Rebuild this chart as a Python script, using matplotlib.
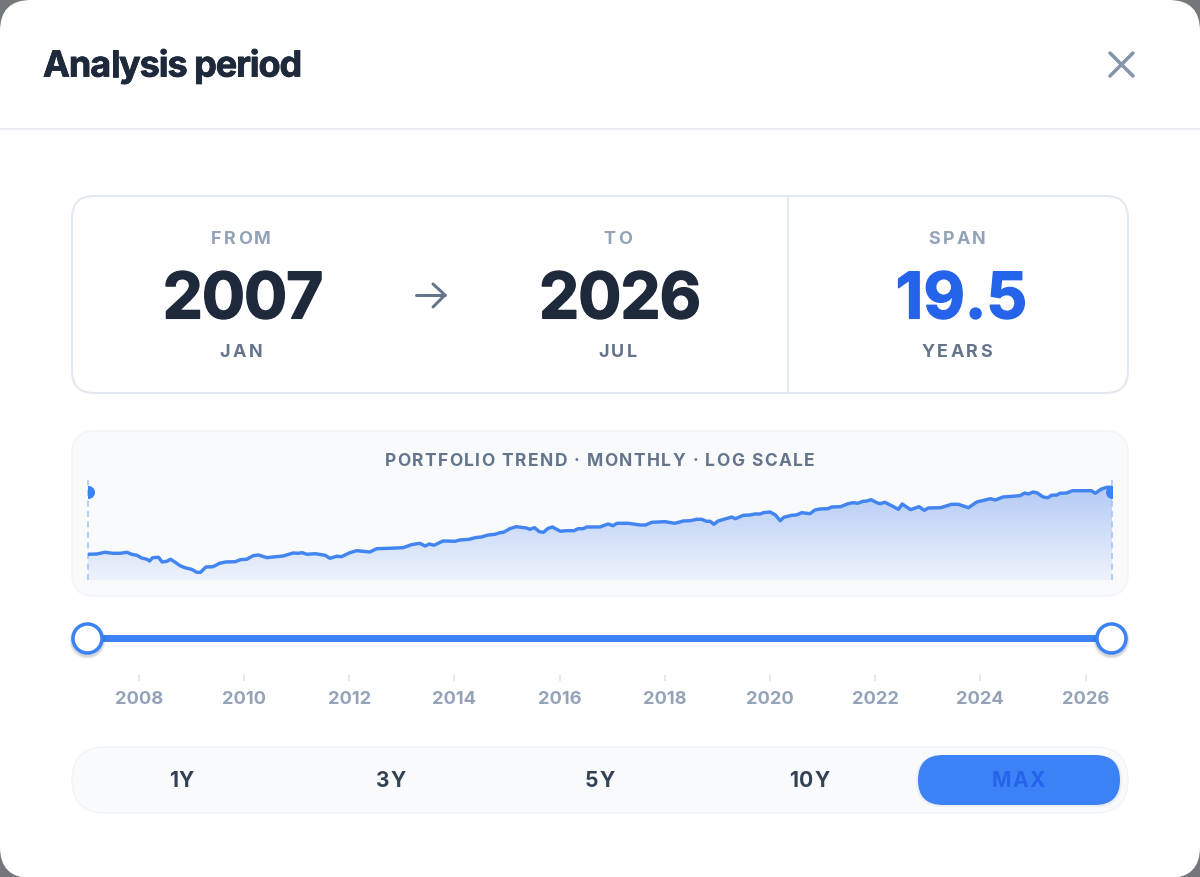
import numpy as np
import matplotlib
matplotlib.use("Agg")
import matplotlib.pyplot as plt
import matplotlib.patheffects as pe
from matplotlib.colors import to_rgb
from matplotlib.patches import FancyBboxPatch
from matplotlib.patheffects import PathEffectRenderer
from matplotlib.text import Text

plt.rcParams["font.family"] = ["Inter", "Noto Sans", "DejaVu Sans"]

# portfolio trend (decimal year, index value on log axis)
trend_years = [
    2007.02, 2007.19, 2007.34, 2007.50, 2007.63, 2007.76, 2007.85, 2007.95, 2008.04, 2008.14,
    2008.19, 2008.25, 2008.36, 2008.43, 2008.52, 2008.59, 2008.69, 2008.77, 2008.86, 2008.99,
    2009.09, 2009.16, 2009.26, 2009.40, 2009.52, 2009.64, 2009.82, 2009.92, 2010.04, 2010.16,
    2010.26, 2010.42, 2010.54, 2010.73, 2010.92, 2011.02, 2011.09, 2011.18, 2011.34, 2011.53,
    2011.62, 2011.75, 2011.84, 2012.00, 2012.13, 2012.38, 2012.51, 2012.76, 2013.01, 2013.17,
    2013.33, 2013.43, 2013.51, 2013.60, 2013.77, 2014.00, 2014.09, 2014.27, 2014.38, 2014.50,
    2014.63, 2014.76, 2014.85, 2014.92, 2015.04, 2015.16, 2015.36, 2015.42, 2015.51, 2015.60,
    2015.68, 2015.77, 2015.85, 2016.00, 2016.12, 2016.26, 2016.34, 2016.44, 2016.50, 2016.75,
    2016.91, 2017.00, 2017.08, 2017.29, 2017.52, 2017.62, 2017.74, 2017.99, 2018.18, 2018.34,
    2018.47, 2018.59, 2018.69, 2018.78, 2018.85, 2018.92, 2019.00, 2019.26, 2019.33, 2019.48,
    2019.61, 2019.70, 2019.80, 2019.86, 2019.99, 2020.09, 2020.18, 2020.25, 2020.40, 2020.49,
    2020.59, 2020.75, 2020.84, 2020.94, 2021.09, 2021.16, 2021.33, 2021.47, 2021.57, 2021.65,
    2021.76, 2021.83, 2021.91, 2022.02, 2022.08, 2022.17, 2022.30, 2022.43, 2022.50, 2022.66,
    2022.82, 2022.92, 2023.00, 2023.23, 2023.44, 2023.57, 2023.76, 2023.92, 2024.18, 2024.27,
    2024.42, 2024.74, 2024.83, 2024.90, 2024.99, 2025.07, 2025.18, 2025.27, 2025.34, 2025.44,
    2025.50, 2025.63, 2025.74, 2026.10, 2026.17, 2026.29, 2026.39, 2026.49,
]
trend_values = [
    99.3, 100.0, 104.3, 101.7, 101.7, 104.3, 99.3, 96.8, 90.6, 87.8,
    84.1, 91.3, 92.2, 82.1, 83.5, 87.8, 80.6, 74.9, 71.3, 68.5,
    63.6, 63.6, 72.5, 73.1, 79.5, 82.1, 82.7, 86.9, 87.8, 95.9,
    97.6, 91.3, 92.9, 95.2, 102.5, 101.7, 103.3, 99.3, 100.7, 96.8,
    89.9, 94.5, 93.6, 103.3, 108.5, 105.1, 114.0, 115.1, 116.8, 125.8,
    130.2, 121.8, 128.0, 124.0, 137.9, 136.9, 141.3, 143.8, 149.6, 152.2,
    159.9, 162.7, 169.2, 170.9, 186.8, 196.2, 190.0, 184.0, 191.4, 173.5,
    170.9, 188.6, 194.8, 175.3, 177.8, 177.8, 186.8, 186.8, 194.8, 194.8,
    209.8, 201.1, 213.4, 213.4, 204.6, 204.6, 218.7, 222.0, 213.4, 225.9,
    227.6, 235.5, 235.5, 224.2, 224.2, 208.2, 225.9, 249.3, 239.1, 260.0,
    262.0, 268.5, 268.5, 277.3, 282.1, 262.0, 227.6, 247.5, 260.0, 262.0,
    277.3, 270.5, 296.4, 303.8, 306.0, 319.2, 321.5, 346.2, 354.9, 349.7,
    367.4, 370.1, 382.2, 354.9, 346.2, 358.4, 329.6, 301.5, 343.7, 298.6,
    321.5, 294.2, 311.4, 313.7, 341.1, 341.1, 313.7, 361.1, 391.8, 379.4,
    408.6, 421.9, 451.0, 440.0, 462.3, 451.0, 408.6, 401.5, 426.0, 429.3,
    447.6, 451.0, 477.3, 477.3, 447.6, 497.8, 519.0, 519.0,
]
range_years = [2007.02, 2026.49]
handle_value = 462.0
tick_years = [2008, 2010, 2012, 2014, 2016, 2018, 2020, 2022, 2024, 2026]
presets = ["1Y", "3Y", "5Y", "10Y", "MAX"]

DARK = "#1e293b"
SLATE = "#64748b"
MUTED = "#94a3b8"
BLUE = "#3b82f6"
BLUE_DEEP = "#2563eb"
BORDER = "#e2e8f0"
SOFT = "#f8fafc"
PX = 0.72  # px to points at dpi 100
OFF = 1  # agg lands one pixel high otherwise


class SpacedText(Text):
    """Text with css-like letter spacing, matplotlib has no such option."""

    def __init__(self, *args, spacing=0, **kwargs):
        super().__init__(*args, **kwargs)
        self.spacing = spacing

    def draw(self, renderer):
        if not self.get_visible():
            return
        s = self.get_text()
        fp = self.get_fontproperties()
        width = lambda t: renderer.get_text_width_height_descent(t, fp, False)[0] if t else 0
        total = width(s) + self.spacing * (len(s) - 1)
        x0, y0 = self.get_transform().transform(self.get_position())
        if self.get_ha() == "center":
            x0 -= total / 2
        y0 = renderer.get_canvas_width_height()[1] - y0
        gc = renderer.new_gc()
        gc.set_foreground(self.get_color())
        gc.set_antialiased(True)
        rend = renderer
        if self.get_path_effects():
            rend = PathEffectRenderer(self.get_path_effects(), renderer)
        for i, ch in enumerate(s):
            rend.draw_text(gc, x0 + width(s[:i]) + i * self.spacing, y0, ch, fp, 0, False)
        gc.restore()


def rbox(ax, x, y, w, h, r, fc, ec="none", lw=0, alpha=None, z=1):
    p = FancyBboxPatch((x, y), w, h, boxstyle=f"round,pad=0,rounding_size={r}",
                       fc=fc, ec=ec, lw=lw * PX, alpha=alpha, zorder=z)
    ax.add_patch(p)
    return p


def label(ax, x, y, s, px, color, spacing=0, weight="bold", heavy=0, ha="center", z=6):
    # y is the middle of the capitals
    t = SpacedText(x, y + 0.364 * px, s, spacing=spacing, fontsize=px * PX, color=color,
                   fontweight=weight, ha=ha, va="baseline", zorder=z)
    if heavy:
        t.set_path_effects([pe.Stroke(linewidth=heavy * PX, foreground=color), pe.Normal()])
    ax.add_artist(t)
    return t


fig = plt.figure(figsize=(12, 8.78), dpi=100, facecolor="#74777b")

page = fig.add_axes([0, 0, 1, 1])
page.axis("off")

rbox(page, 0, 0, 1200, 878, 31, "white")

# header
label(page, 43, 63.5, "Analysis period", 36, DARK, spacing=-1.0, heavy=0.8, ha="left")
page.plot([0, 1200], [129, 129], color=BORDER, lw=1.5 * PX, zorder=2)
page.plot([1110, 1133], [53, 76], color="#8494aa", lw=3.5 * PX, solid_capstyle="round")
page.plot([1110, 1133], [76, 53], color="#8494aa", lw=3.5 * PX, solid_capstyle="round")

# date card
rbox(page, 72, 196, 1056, 197, 22, "white", BORDER, 2)
page.plot([788, 788], [196, 393], color=BORDER, lw=2 * PX, zorder=2)
for cx, big_x, top, big, big_sp, bottom, big_color in [
    (241.5, 243, "FROM", "2007", -1, "JAN", DARK),
    (618, 620, "TO", "2026", -1, "JUL", DARK),
    (957.5, 961.5, "SPAN", "19.5", 0, "YEARS", BLUE_DEEP),
]:
    label(page, cx - 0.5, 236.8, top, 18, MUTED, spacing=2.2)
    label(page, big_x, 295, big, 64, big_color, spacing=big_sp, heavy=1.5)
    label(page, cx - 0.5, 349.8, bottom, 18, SLATE, spacing=2.4)
page.plot([416, 445], [295, 295], color=SLATE, lw=3 * PX, solid_capstyle="round")
page.plot([433, 445, 433], [284, 295, 307], color=SLATE, lw=3 * PX,
          solid_capstyle="round", solid_joinstyle="round")

# chart card
for grow, a in [(6, 0.012), (4, 0.018), (2, 0.03)]:
    rbox(page, 72 - grow, 431 - grow + 2.5, 1056 + 2 * grow, 165 + 2 * grow, 22 + grow,
         "#0f172a", alpha=a, z=0.5)
rbox(page, 72, 431, 1056, 165, 22, SOFT, "#f1f5f9", 1.5)
label(page, 599.5, 458.5, "PORTFOLIO TREND · MONTHLY · LOG SCALE", 17.4, SLATE, spacing=1.45)

chart = fig.add_axes([88 / 1200, 1 - (580 + OFF) / 878, 1024 / 1200, 110 / 878])
chart.patch.set_alpha(0)
chart.set_yscale("log")
chart.set_xlim(*range_years)
chart.set_ylim(52.6, 795.8)
chart.axis("off")

area = chart.fill_between(trend_years, trend_values, 52.6, color="none", lw=0)
c0 = np.array(to_rgb("#b4cbf5"))
c1 = np.array(to_rgb("#eef3fc"))
ramp = np.linspace(0, 1, 128)[:, None, None]
grad = c0[None, None, :] * (1 - ramp) + c1[None, None, :] * ramp
img = page.imshow(grad, extent=(88, 1112, 580, 487), aspect="auto", zorder=3)
img.set_clip_path(area.get_paths()[0], transform=chart.transData)
page.set_xlim(0, 1200)
page.set_ylim(878 - OFF, -OFF)

chart.plot(trend_years, trend_values, color="#4285f0", lw=3.4 * PX, solid_joinstyle="round", zorder=4)
for yr in range_years:
    chart.axvline(yr, ymin=0, ymax=0.91, color="#a3c0f8", lw=1.5 * PX, ls=(0, (4, 3)), zorder=3,
                  clip_on=False)
chart.plot(range_years, [handle_value, handle_value], ls="none", marker="o", ms=13 * PX,
           color=BLUE, mew=0, zorder=5)

# slider with the year ticks
slider = fig.add_axes([87.3 / 1200, 1 - (681 + OFF) / 878, 1024 / 1200, 61 / 878])
slider.patch.set_alpha(0)
slider.set_xlim(*range_years)
slider.set_ylim(0, 61)
for s in slider.spines.values():
    s.set_visible(False)
slider.set_yticks([])
slider.set_xticks(tick_years)
slider.set_xticklabels([str(t) for t in tick_years], fontsize=18.3 * PX, fontweight="bold", color=MUTED)
slider.tick_params(axis="x", direction="in", length=6 * PX, width=2 * PX, color=BORDER, pad=9 * PX)
slider.plot(range_years, [43, 43], color=BLUE, lw=7 * PX, solid_capstyle="butt", zorder=2, clip_on=False)
for size, a in [(37, 0.04), (35, 0.06), (33.5, 0.08)]:
    slider.plot(range_years, [41.5, 41.5], ls="none", marker="o", ms=size * PX, color="#0f172a", alpha=a,
                mew=0, zorder=2.5, clip_on=False)
slider.plot(range_years, [43, 43], ls="none", marker="o", ms=29 * PX, mfc="white", mec=BLUE,
            mew=3.5 * PX, zorder=3, clip_on=False)

# preset buttons
rbox(page, 72, 747, 1056, 66, 33, SOFT, "#f1f5f9", 1.5)
rbox(page, 916, 755, 206, 52, 26, "#0f172a", alpha=0.05, z=1.2)
rbox(page, 918, 755, 202, 50, 25, BLUE, z=1.3)
for cx, name in zip([181.5, 391, 600, 809.5, 1018], presets):
    col = BLUE_DEEP if name == "MAX" else "#334155"
    label(page, cx, 778.8, name, 21, col, spacing=1.2)

fig.savefig("out.png", dpi=100, facecolor=fig.get_facecolor())
